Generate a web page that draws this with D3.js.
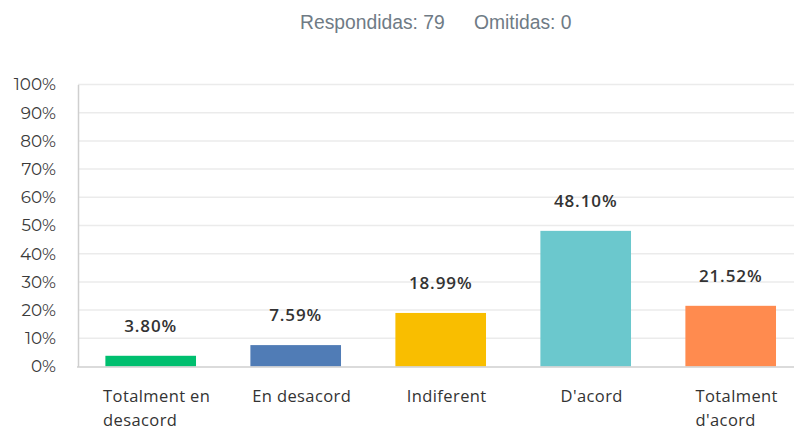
<!DOCTYPE html>
<html><head><meta charset="utf-8">
<script src="https://cdn.jsdelivr.net/npm/d3@7"></script>
<style>body{margin:0;background:#fff}svg{display:block}</style>
</head><body>
<script>
const categories = [["Totalment en","desacord"],["En desacord"],["Indiferent"],["D'acord"],["Totalment","d'acord"]];
const values = [3.80, 7.59, 18.99, 48.10, 21.52];
const colors = ["#00bf6f","#507cb6","#f9be00","#6bc8cd","#ff8b4f"];
const yTicks = [0,10,20,30,40,50,60,70,80,90,100];
const header = ["Respondidas: 79","Omitidas: 0"];

const W=794,H=429;
const svg=d3.select("body").append("svg").attr("width",W).attr("height",H);
const keys=categories.map((c,i)=>i);
const x=d3.scaleBand().domain(keys).range([78.2,803.2]).paddingInner(0.375).paddingOuter(0.1875);
const y=d3.scaleLinear().domain([0,100]).range([366.5,84.5]);

// header
svg.append("text").attr("x",300).attr("y",29).attr("font-family","Liberation Sans, Arial, sans-serif")
  .attr("font-size",19.3).attr("fill","#6f7b85").text(header[0]);
svg.append("text").attr("x",474).attr("y",29).attr("font-family","Liberation Sans, Arial, sans-serif")
  .attr("font-size",19.3).attr("fill","#6f7b85").text(header[1]);

// gridlines
svg.append("g").selectAll("line").data(yTicks.filter(t=>t>0)).join("line")
  .attr("x1",78).attr("x2",W).attr("y1",d=>y(d)).attr("y2",d=>y(d))
  .attr("stroke","#ebebeb").attr("stroke-width",1.5);

// y axis
const ya=svg.append("g").attr("transform","translate(78,0)")
  .call(d3.axisLeft(y).tickValues(yTicks).tickFormat(d=>d+"%").tickSize(0).tickPadding(22));
ya.select(".domain").attr("stroke","#cfcfcf").attr("stroke-width",1.5);
ya.selectAll("text").attr("font-family","Montserrat, 'Open Sans', sans-serif").attr("font-size",16.8).attr("fill","#3a3a3a");

// bars
svg.append("g").selectAll("rect").data(values).join("rect")
  .attr("x",(d,i)=>x(i)).attr("width",x.bandwidth())
  .attr("y",d=>y(d)).attr("height",d=>y(0)-y(d)).attr("fill",(d,i)=>colors[i]);

// baseline
svg.append("line").attr("x1",77).attr("x2",W).attr("y1",367).attr("y2",367).attr("stroke","#cfcfcf").attr("stroke-width",1.5);

// value labels
svg.append("g").selectAll("text").data(values).join("text")
  .attr("x",(d,i)=>x(i)+x.bandwidth()/2).attr("y",d=>y(d)-24)
  .attr("text-anchor","middle").attr("font-family","'Open Sans', sans-serif").attr("font-weight",600)
  .attr("font-size",17).attr("letter-spacing",0.9).attr("fill","#333").text(d=>d.toFixed(2)+"%");

// category labels
const cg=svg.append("g");
categories.forEach((lines,i)=>{
  const t=cg.append("text").attr("font-family","'Open Sans', sans-serif").attr("font-size",16.5)
    .attr("letter-spacing",0.4).attr("fill","#333");
  lines.forEach((l,j)=>t.append("tspan").attr("y",402+j*23.5).text(l));
  let w=0; t.selectAll("tspan").each(function(){w=Math.max(w,this.getComputedTextLength());});
  const sx=x(i)+x.bandwidth()/2+6-w/2;
  t.selectAll("tspan").attr("x",sx);
});
</script>
</body></html>
